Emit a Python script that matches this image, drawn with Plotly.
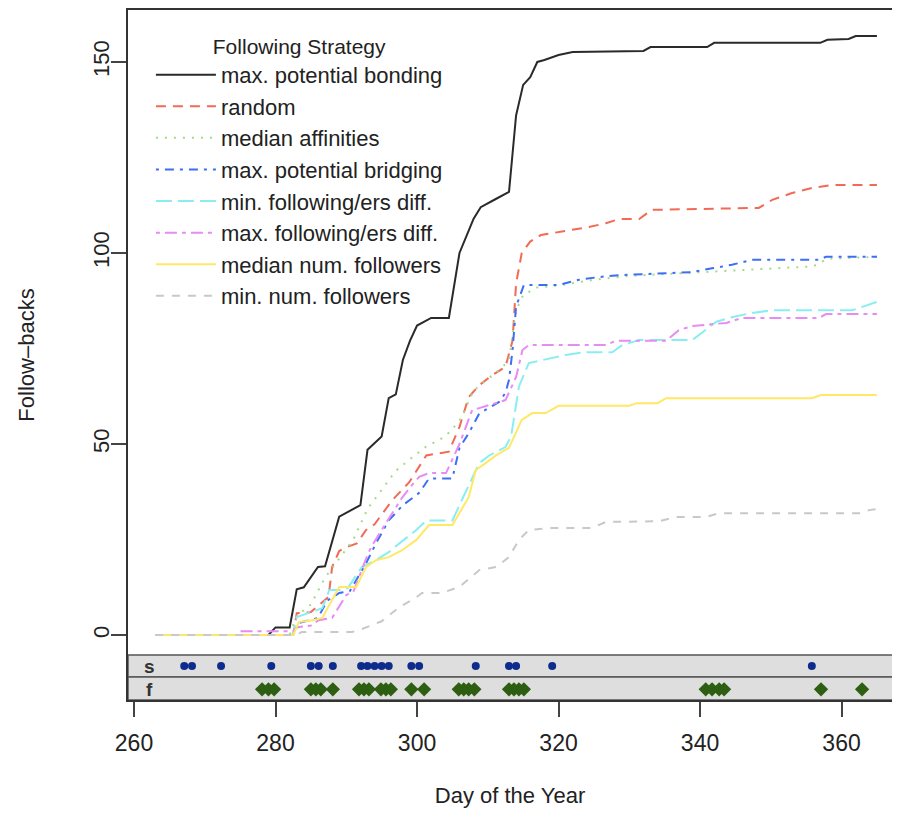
import plotly.graph_objects as go

# ---------------- data ----------------
series_names = [
    "max. potential bonding", "random", "median affinities", "max. potential bridging",
    "min. following/ers diff.", "max. following/ers diff.", "median num. followers",
    "min. num. followers",
]

bonding_days = [263, 279, 280, 282, 283, 284, 286, 287, 289, 290, 292, 293, 295, 296, 297, 298, 299, 300, 302, 304.5,
                306, 308, 309, 311, 313, 314, 315, 316, 317, 318, 320, 322, 332, 333, 341, 342, 357, 358, 361, 362, 365]
bonding_vals = [0, 0, 2, 2, 12, 12.5, 17.8, 18, 31, 32, 34, 48.5, 52, 62, 63, 72, 77, 81, 83, 83,
                100, 109, 112, 114, 116, 136, 144, 146, 150, 150.5, 151.8, 152.6, 152.9, 153.9, 153.9, 155, 155, 155.8, 156, 156.8, 156.8]

random_days = [263, 282.5, 283, 285, 287.5, 288, 289, 290, 291.5, 292.8, 294, 296.5, 298.9, 300.3, 301.3, 304.5, 306, 307.3,
               308.8, 310.6, 312.5, 313.5, 314, 314.8, 316, 317.5, 322, 324.3, 326.7, 328.6, 331.4, 333.2, 348.3, 350.2,
               353, 355.8, 358.7, 365]
random_vals = [0, 0, 5.7, 6, 10, 17.8, 22, 23, 24, 27.5, 29, 35.3, 40, 44, 47, 48, 54.5, 62.3,
               65.4, 68, 70.2, 77, 92, 100, 103, 104.7, 106, 106.8, 107.8, 108.9, 108.9, 111.3, 111.8, 113.9,
               115.7, 117, 117.8, 117.8]

affin_days = [263, 282, 283, 285, 287, 289, 291, 293, 295, 297, 299, 301, 304, 306, 308, 310, 312, 313, 314, 315, 317,
              320, 325, 330, 340, 350, 356, 358, 365]
affin_vals = [0, 0, 5, 8, 15, 20, 25, 33, 38, 43, 46, 49, 52, 56, 64, 67, 70, 72, 85, 89, 91,
              91.5, 93, 94, 95, 96, 96.5, 98.5, 99]

bridging_days = [263, 282.5, 283, 285, 286, 287.3, 289, 290.5, 292.8, 294.2, 296, 298, 300.3, 301.7, 305, 306, 307.3, 308.8,
                 311.6, 312.5, 313, 313.5, 314, 315.1, 320, 322.9, 325.7, 328.6, 338.9, 341.7, 344.5, 347.3, 356.8,
                 357.8, 365]
bridging_vals = [0, 0, 3, 4, 4.5, 9, 11, 11.5, 18.8, 24, 30, 34, 37.2, 41, 41, 49, 52.8, 58,
                 61, 63.4, 66.8, 74.6, 86, 91.6, 91.6, 93, 93.7, 94.2, 95, 96, 96.9, 98.2, 98.2,
                 99, 99]

mindiff_days = [263, 282.5, 283, 285.2, 286.6, 287.6, 289.4, 290.2, 292.2, 294.2, 296, 297.5, 299.9, 301.3, 305, 306.5,
                308.8, 310.2, 312.5, 313.3, 314.4, 315.8, 317.7, 321, 323.4, 327.6, 329, 331.4, 338.9, 342.3, 344.5,
                347.3, 350.2, 361.5, 365]
mindiff_vals = [0, 0, 4.7, 6, 7, 11.8, 11.8, 12.3, 17.8, 19.6, 21.7, 24, 27.5, 30, 30, 36,
                45, 47, 49.2, 52, 65, 71.2, 72, 73.3, 74, 74, 75.9, 77.2, 77.2, 82, 83.2,
                84.3, 85, 85, 87.2]

maxdiff_days = [263, 274.5, 275, 282.5, 283, 285, 286.1, 288, 290, 291, 292.8, 293.5, 295, 297.9, 299.3, 300.3, 301.7,
                304.1, 306, 307.8, 308.8, 311.2, 312.5, 314, 314.9, 315.8, 326.7, 328.1, 335.2, 337, 338.9, 343.7,
                345.9, 356.8, 357.8, 365]
maxdiff_vals = [0, 0, 1, 1, 2, 2.5, 3.9, 4.5, 10.5, 11.3, 20, 23, 27.5, 36, 39.3, 41.4, 42.4,
                42.4, 50, 58.9, 59.4, 60.7, 61.5, 67.5, 74.6, 75.9, 75.9, 77, 77, 79.8, 80.9, 81.7,
                83, 83, 84, 84]

medfol_days = [263, 282.5, 283.3, 285.2, 286.6, 289, 291.4, 292.8, 294.2, 296, 297.9, 299.9, 301.7, 305, 307.3, 308.3,
               309.7, 311.2, 313, 314.8, 316.3, 318.2, 320, 330, 331.1, 334, 335.2, 355.8, 357.1, 365]
medfol_vals = [0, 0, 3.4, 3.9, 4.5, 12.6, 12.6, 17.8, 19.6, 20.4, 22.2, 24.9, 28.8, 28.8, 36.1, 43.2,
               45, 47.1, 49, 56.3, 58.1, 58.1, 60, 60, 60.7, 60.7, 62, 62, 62.8, 62.8]

minfol_days = [263, 283, 283.7, 290.8, 291.8, 295, 297.5, 299.9, 300.7, 303.5, 306, 308.8, 311.2, 313, 314.4, 315.8,
               318.7, 324.7, 326.7, 334.2, 336.6, 340.8, 342.7, 362.5, 363.9, 365]
minfol_vals = [0, 0, 0.8, 0.8, 1.3, 3.6, 7.3, 9.9, 11, 11, 12.6, 17, 17.8, 20.4, 24.9, 27.5,
               28, 28, 29.6, 29.8, 30.9, 30.9, 31.9, 31.9, 32.7, 33]

s_days = [267.1, 268.2, 272.3, 279.4, 285.0, 286.1, 288.1, 292.1, 293.0, 294.0, 295.0, 296.0,
          299.2, 300.3, 308.3, 313.0, 314.0, 319.1, 355.8]
f_days = [278.1, 279.0, 279.8, 285.0, 285.7, 286.4, 288.1, 291.8, 292.5, 293.2, 294.9, 295.6, 296.3,
          299.2, 301.0, 305.9, 306.6, 307.3, 308.1, 313.0, 313.7, 314.4, 315.1,
          340.8, 341.7, 342.7, 343.4, 357.1, 362.9]
s_level = -8.1
f_level = -14.2

x_ticks = [260, 280, 300, 320, 340, 360]
y_ticks = [0, 50, 100, 150]

# ---------------- styling ----------------
days_list = [bonding_days, random_days, affin_days, bridging_days, mindiff_days, maxdiff_days, medfol_days, minfol_days]
vals_list = [bonding_vals, random_vals, affin_vals, bridging_vals, mindiff_vals, maxdiff_vals, medfol_vals, minfol_vals]
colors = ["#2a2a2a", "#f26a55", "#a3da87", "#3d6ff5", "#8aeef0", "#e78bf5", "#ffe866", "#c8c8c8"]
dashes = ["solid", "10px,7px", "2px,7px", "3px,6px,9px,6px", "16px,6px", "4px,5px,12px,5px", "solid", "8px,8px"]

FONT = "Liberation Sans, Arial, sans-serif"

fig = go.Figure()
for name, d, v, c, ds in zip(series_names, days_list, vals_list, colors, dashes):
    fig.add_trace(go.Scatter(x=d, y=v, mode="lines", name=name,
                             line=dict(color=c, width=2, dash=ds)))

fig.add_trace(go.Scatter(x=s_days, y=[s_level] * len(s_days), mode="markers", showlegend=False,
                         marker=dict(symbol="circle", size=8, color="#0d2c8c")))
fig.add_trace(go.Scatter(x=f_days, y=[f_level] * len(f_days), mode="markers", showlegend=False,
                         marker=dict(symbol="diamond", size=11, color="#2d5e12")))

strip_top, strip_mid, strip_bot = -5.24, -11.0, -17.0
fig.add_shape(type="rect", xref="paper", yref="y", x0=0, x1=1.05, y0=strip_mid, y1=strip_top,
              fillcolor="#dedede", line=dict(color="#555555", width=1.5), layer="below")
fig.add_shape(type="rect", xref="paper", yref="y", x0=0, x1=1.05, y0=strip_bot, y1=strip_mid,
              fillcolor="#dedede", line=dict(color="#555555", width=1.5), layer="below")

fig.add_annotation(x=262.2, y=s_level, xref="x", yref="y", text="<b>s</b>", showarrow=False,
                   font=dict(family=FONT, size=19, color="#333333"))
fig.add_annotation(x=262.2, y=f_level, xref="x", yref="y", text="<b>f</b>", showarrow=False,
                   font=dict(family=FONT, size=19, color="#333333"))

# page body has an 8px default margin, so the figure is sized to fit the 900x816 window
fig.update_layout(
    width=884, height=800,
    margin=dict(l=120, r=0, t=2, b=108, autoexpand=False),
    paper_bgcolor="white", plot_bgcolor="white",
    font=dict(family=FONT, size=22, color="#222222"),
    showlegend=True,
    legend=dict(
        title=dict(text="Following Strategy", side="top center", font=dict(family=FONT, size=21, color="#222222")),
        font=dict(family=FONT, size=22, color="#222222"),
        x=0.03, y=0.976, xanchor="left", yanchor="top",
        bgcolor="rgba(0,0,0,0)", borderwidth=0, itemwidth=60, tracegroupgap=0,
    ),
    xaxis=dict(
        range=[259.15, 367.13], tickvals=x_ticks, ticks="outside", ticklen=15, tickwidth=1.5,
        tickcolor="#444444", showline=True, linecolor="#333333", linewidth=1.5, mirror=True,
        showgrid=False, zeroline=False, tickfont=dict(size=23), automargin=False, ticklabelstandoff=7,
        title=dict(text="Day of the Year", font=dict(size=22), standoff=40),
    ),
    yaxis=dict(
        range=[-17.0, 163.6], tickvals=y_ticks, ticks="outside", ticklen=15, tickwidth=1.5,
        tickcolor="#444444", showline=True, linecolor="#333333", linewidth=1.5, mirror=False,
        showgrid=False, zeroline=False, tickangle=-90, tickfont=dict(size=22), automargin=False,
        ticklabelstandoff=-7,
        title=dict(text="Follow–backs", font=dict(size=22), standoff=49),
    ),
)

fig.write_html("out.html")
